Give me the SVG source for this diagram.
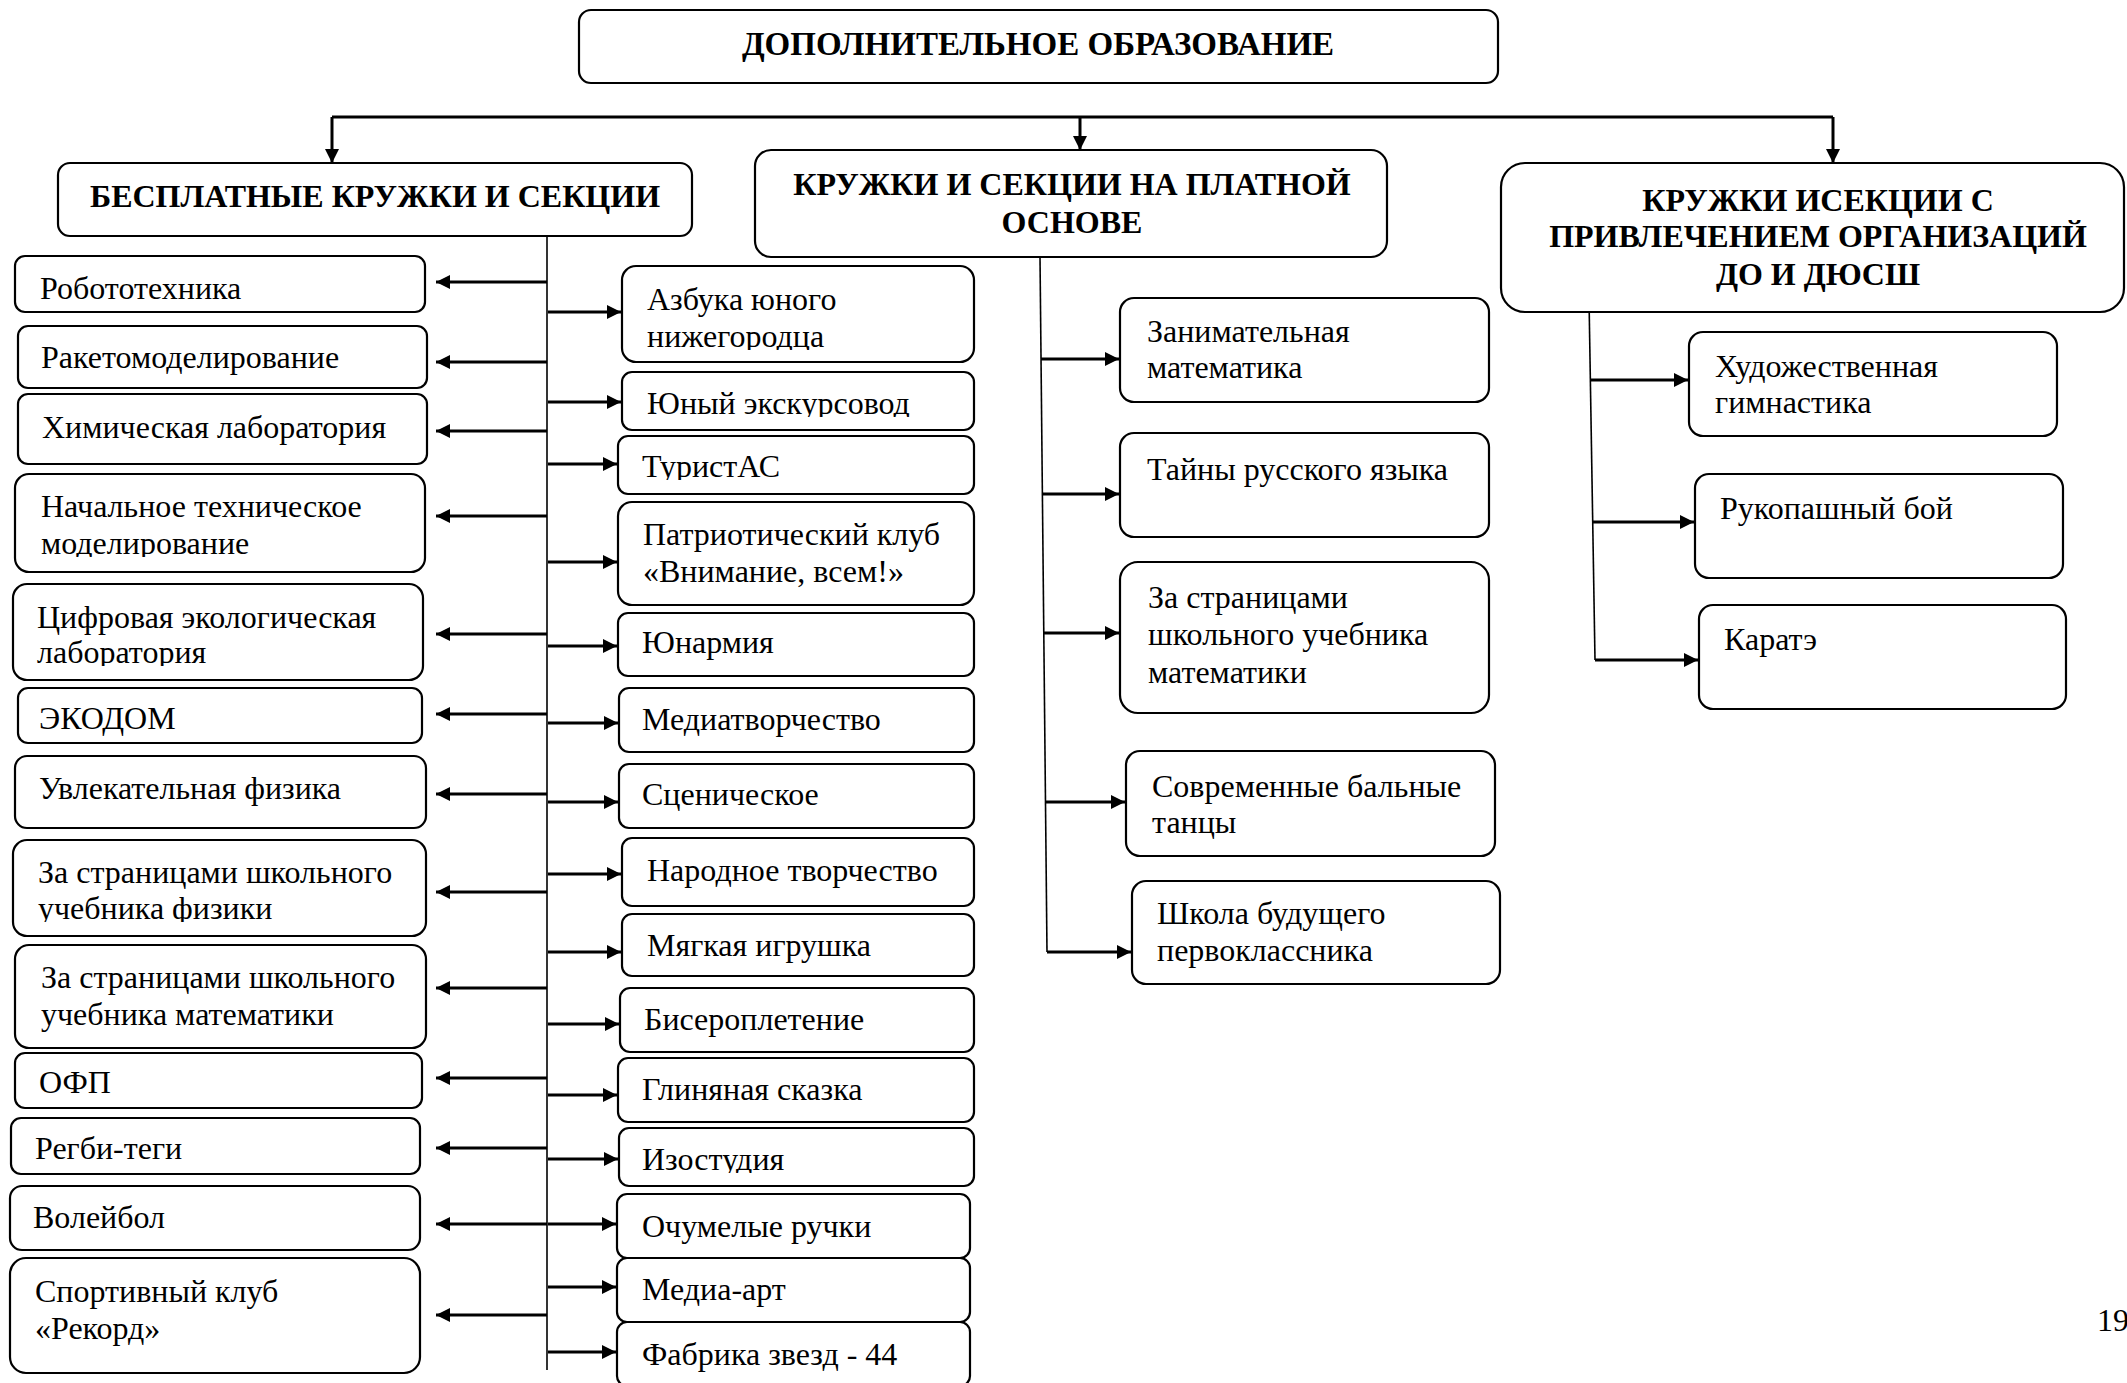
<svg xmlns="http://www.w3.org/2000/svg" width="2127" height="1383" viewBox="0 0 2127 1383">
<style>
.box{fill:#fff;stroke:#000;stroke-width:2.2}
.t{font-family:"Liberation Serif","Times New Roman",serif;font-size:32px;fill:#000}
.h{font-family:"Liberation Serif","Times New Roman",serif;font-size:32px;font-weight:bold;text-anchor:middle;fill:#000}
.c{stroke:#000;stroke-width:3;fill:none}
.tr{stroke:#000;stroke-width:1.6;fill:none}
.a{marker-end:url(#arr)}
</style>
<defs>
<marker id="arr" viewBox="0 0 10 10" refX="10" refY="5" markerUnits="userSpaceOnUse" markerWidth="15" markerHeight="14" orient="auto-start-reverse"><path d="M0,0 L10,5 L0,10 z" fill="#000"/></marker>
<clipPath id="cL4"><rect x="15" y="474" width="410" height="83"/></clipPath>
<clipPath id="cL5"><rect x="13" y="584" width="410" height="82"/></clipPath>
<clipPath id="cL8"><rect x="13" y="840" width="413" height="82"/></clipPath>
<clipPath id="cR1"><rect x="622" y="266" width="352" height="84"/></clipPath>
<clipPath id="cR2"><rect x="622" y="372" width="352" height="45"/></clipPath>
<clipPath id="cR3"><rect x="618" y="436" width="356" height="44"/></clipPath>
<clipPath id="cR12"><rect x="619" y="1128" width="355" height="45"/></clipPath>
<clipPath id="cPg"><rect x="2080" y="1310" width="47" height="40"/></clipPath>
</defs>

<g id="connectors">
<path class="c" d="M332,117 H1833"/>
<path class="c a" d="M332,117 V163"/>
<path class="c a" d="M1080,117 V150"/>
<path class="c a" d="M1833,117 V163"/>
<path class="tr" d="M547,236 V1370"/>
<path class="c a" d="M547,282 H436"/>
<path class="c a" d="M547,362 H436"/>
<path class="c a" d="M547,431 H436"/>
<path class="c a" d="M547,516 H436"/>
<path class="c a" d="M547,634 H436"/>
<path class="c a" d="M547,714 H436"/>
<path class="c a" d="M547,794 H436"/>
<path class="c a" d="M547,892 H436"/>
<path class="c a" d="M547,988 H436"/>
<path class="c a" d="M547,1078 H436"/>
<path class="c a" d="M547,1148 H436"/>
<path class="c a" d="M547,1224 H436"/>
<path class="c a" d="M547,1315 H436"/>
<path class="c a" d="M548,312 H621"/>
<path class="c a" d="M548,402 H621"/>
<path class="c a" d="M548,464 H617"/>
<path class="c a" d="M548,562 H617"/>
<path class="c a" d="M548,646 H617"/>
<path class="c a" d="M548,723 H618"/>
<path class="c a" d="M548,802 H618"/>
<path class="c a" d="M548,874 H621"/>
<path class="c a" d="M548,952 H621"/>
<path class="c a" d="M548,1024 H619"/>
<path class="c a" d="M548,1095 H617"/>
<path class="c a" d="M548,1159 H618"/>
<path class="c a" d="M548,1224 H616"/>
<path class="c a" d="M548,1287 H616"/>
<path class="c a" d="M548,1352 H616"/>
<path class="tr" d="M1040,257 L1047,952"/>
<path class="c a" d="M1041,359 H1119"/>
<path class="c a" d="M1042,494 H1119"/>
<path class="c a" d="M1044,633 H1119"/>
<path class="c a" d="M1045,802 H1125"/>
<path class="c a" d="M1047,952 H1131"/>
<path class="tr" d="M1589,298 L1595,660"/>
<path class="c a" d="M1590,380 H1688"/>
<path class="c a" d="M1593,522 H1694"/>
<path class="c a" d="M1595,660 H1698"/>
</g>

<g id="n-top"><rect class="box" x="579" y="10" width="919" height="73" rx="12"/><text class="h" x="1038" y="55" style="font-size:33px">ДОПОЛНИТЕЛЬНОЕ ОБРАЗОВАНИЕ</text></g>
<g id="n-free"><rect class="box" x="58" y="163" width="634" height="73" rx="12"/><text class="h" x="375" y="207">БЕСПЛАТНЫЕ КРУЖКИ И СЕКЦИИ</text></g>
<g id="n-paid"><rect class="box" x="755" y="150" width="632" height="107" rx="16"/><text class="h" x="1072" y="195">КРУЖКИ И СЕКЦИИ НА ПЛАТНОЙ</text><text class="h" x="1072" y="233">ОСНОВЕ</text></g>
<g id="n-org"><rect class="box" x="1501" y="163" width="623" height="149" rx="24"/><text class="h" x="1818" y="211">КРУЖКИ ИСЕКЦИИ С</text><text class="h" x="1818" y="247">ПРИВЛЕЧЕНИЕМ ОРГАНИЗАЦИЙ</text><text class="h" x="1818" y="285">ДО И ДЮСШ</text></g>

<g id="n-L1"><rect class="box" x="15" y="256" width="410" height="56" rx="10"/><text class="t" x="40" y="299">Робототехника</text></g>
<g id="n-L2"><rect class="box" x="18" y="326" width="409" height="62" rx="10"/><text class="t" x="41" y="368">Ракетомоделирование</text></g>
<g id="n-L3"><rect class="box" x="18" y="394" width="409" height="70" rx="10"/><text class="t" x="42" y="438">Химическая лаборатория</text></g>
<g id="n-L4"><rect class="box" x="15" y="474" width="410" height="98" rx="14"/><g clip-path="url(#cL4)"><text class="t" x="41" y="517">Начальное техническое</text><text class="t" x="41" y="554">моделирование</text></g></g>
<g id="n-L5"><rect class="box" x="13" y="584" width="410" height="96" rx="14"/><g clip-path="url(#cL5)"><text class="t" x="37" y="628">Цифровая экологическая</text><text class="t" x="37" y="663">лаборатория</text></g></g>
<g id="n-L6"><rect class="box" x="18" y="688" width="404" height="55" rx="10"/><text class="t" x="39" y="729">ЭКОДОМ</text></g>
<g id="n-L7"><rect class="box" x="15" y="756" width="411" height="72" rx="12"/><text class="t" x="39" y="799">Увлекательная физика</text></g>
<g id="n-L8"><rect class="box" x="13" y="840" width="413" height="96" rx="14"/><g clip-path="url(#cL8)"><text class="t" x="38" y="883">За страницами школьного</text><text class="t" x="38" y="919">учебника физики</text></g></g>
<g id="n-L9"><rect class="box" x="15" y="945" width="411" height="103" rx="14"/><text class="t" x="41" y="988">За страницами школьного</text><text class="t" x="41" y="1025">учебника математики</text></g>
<g id="n-L10"><rect class="box" x="15" y="1053" width="407" height="55" rx="10"/><text class="t" x="39" y="1093">ОФП</text></g>
<g id="n-L11"><rect class="box" x="11" y="1118" width="409" height="56" rx="10"/><text class="t" x="35" y="1159">Регби-теги</text></g>
<g id="n-L12"><rect class="box" x="10" y="1186" width="410" height="64" rx="12"/><text class="t" x="33" y="1228">Волейбол</text></g>
<g id="n-L13"><rect class="box" x="10" y="1258" width="410" height="115" rx="16"/><text class="t" x="35" y="1302">Спортивный клуб</text><text class="t" x="35" y="1339">«Рекорд»</text></g>

<g id="n-R1"><rect class="box" x="622" y="266" width="352" height="96" rx="14"/><g clip-path="url(#cR1)"><text class="t" x="647" y="310">Азбука юного</text><text class="t" x="647" y="347">нижегородца</text></g></g>
<g id="n-R2"><rect class="box" x="622" y="372" width="352" height="58" rx="10"/><g clip-path="url(#cR2)"><text class="t" x="647" y="414">Юный экскурсовод</text></g></g>
<g id="n-R3"><rect class="box" x="618" y="436" width="356" height="58" rx="10"/><g clip-path="url(#cR3)"><text class="t" x="642" y="477">ТуристАС</text></g></g>
<g id="n-R4"><rect class="box" x="618" y="502" width="356" height="103" rx="14"/><text class="t" x="643" y="545">Патриотический клуб</text><text class="t" x="643" y="582">«Внимание, всем!»</text></g>
<g id="n-R5"><rect class="box" x="618" y="613" width="356" height="63" rx="10"/><text class="t" x="642" y="653">Юнармия</text></g>
<g id="n-R6"><rect class="box" x="619" y="688" width="355" height="64" rx="10"/><text class="t" x="642" y="730">Медиатворчество</text></g>
<g id="n-R7"><rect class="box" x="619" y="764" width="355" height="64" rx="10"/><text class="t" x="642" y="805">Сценическое</text></g>
<g id="n-R8"><rect class="box" x="622" y="838" width="352" height="68" rx="10"/><text class="t" x="647" y="881">Народное творчество</text></g>
<g id="n-R9"><rect class="box" x="622" y="914" width="352" height="62" rx="10"/><text class="t" x="647" y="956">Мягкая игрушка</text></g>
<g id="n-R10"><rect class="box" x="620" y="988" width="354" height="64" rx="10"/><text class="t" x="644" y="1030">Бисероплетение</text></g>
<g id="n-R11"><rect class="box" x="618" y="1058" width="356" height="64" rx="10"/><text class="t" x="642" y="1100">Глиняная сказка</text></g>
<g id="n-R12"><rect class="box" x="619" y="1128" width="355" height="58" rx="10"/><g clip-path="url(#cR12)"><text class="t" x="642" y="1170">Изостудия</text></g></g>
<g id="n-R13"><rect class="box" x="617" y="1194" width="353" height="64" rx="10"/><text class="t" x="642" y="1237">Очумелые ручки</text></g>
<g id="n-R14"><rect class="box" x="617" y="1258" width="353" height="64" rx="10"/><text class="t" x="642" y="1300">Медиа-арт</text></g>
<g id="n-R15"><rect class="box" x="617" y="1322" width="353" height="64" rx="10"/><text class="t" x="642" y="1365">Фабрика звезд - 44</text></g>

<g id="n-P1"><rect class="box" x="1120" y="298" width="369" height="104" rx="14"/><text class="t" x="1147" y="342">Занимательная</text><text class="t" x="1147" y="378">математика</text></g>
<g id="n-P2"><rect class="box" x="1120" y="433" width="369" height="104" rx="14"/><text class="t" x="1147" y="480">Тайны русского языка</text></g>
<g id="n-P3"><rect class="box" x="1120" y="562" width="369" height="151" rx="18"/><text class="t" x="1148" y="608">За страницами</text><text class="t" x="1148" y="645">школьного учебника</text><text class="t" x="1148" y="683">математики</text></g>
<g id="n-P4"><rect class="box" x="1126" y="751" width="369" height="105" rx="14"/><text class="t" x="1152" y="797">Современные бальные</text><text class="t" x="1152" y="833">танцы</text></g>
<g id="n-P5"><rect class="box" x="1132" y="881" width="368" height="103" rx="14"/><text class="t" x="1157" y="924">Школа будущего</text><text class="t" x="1157" y="961">первоклассника</text></g>

<g id="n-O1"><rect class="box" x="1689" y="332" width="368" height="104" rx="14"/><text class="t" x="1715" y="377">Художественная</text><text class="t" x="1715" y="413">гимнастика</text></g>
<g id="n-O2"><rect class="box" x="1695" y="474" width="368" height="104" rx="14"/><text class="t" x="1720" y="519">Рукопашный бой</text></g>
<g id="n-O3"><rect class="box" x="1699" y="605" width="367" height="104" rx="14"/><text class="t" x="1724" y="650">Каратэ</text></g>

<g clip-path="url(#cPg)"><text class="t" x="2097" y="1331">19</text></g>
</svg>
